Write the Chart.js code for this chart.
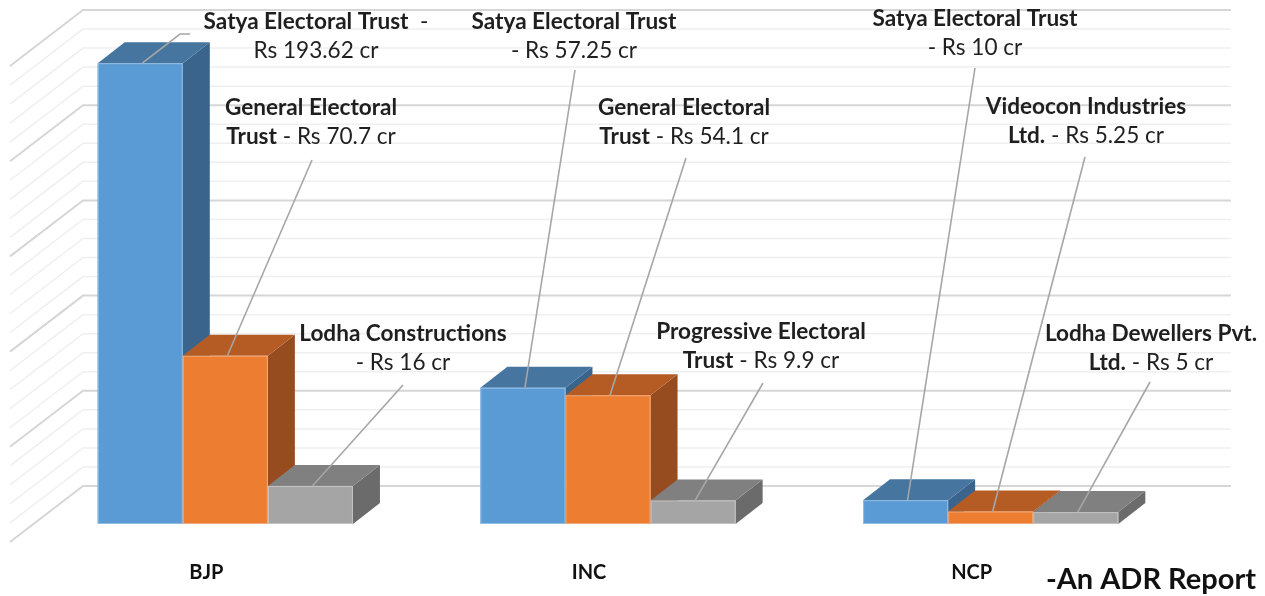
<!DOCTYPE html>
<html>
<head>
<meta charset="utf-8">
<script src="https://cdn.jsdelivr.net/npm/chart.js@4.4.0/dist/chart.umd.min.js"></script>
<style>
  html, body { margin: 0; padding: 0; background: #fff; }
  #wrap { width: 1265px; height: 596px; position: relative; }
</style>
</head>
<body>
<div id="wrap"><canvas id="chart"></canvas></div>
<script>
// --- data ---
const parties = ['BJP', 'INC', 'NCP'];
const firstDonor = ['Satya Electoral Trust', 'Satya Electoral Trust', 'Satya Electoral Trust'];
const firstAmount = [193.62, 57.25, 10];
const secondDonor = ['General Electoral Trust', 'General Electoral Trust', 'Videocon Industries Ltd.'];
const secondAmount = [70.7, 54.1, 5.25];
const thirdDonor = ['Lodha Constructions', 'Progressive Electoral Trust', 'Lodha Dewellers Pvt. Ltd.'];
const thirdAmount = [16, 9.9, 5];
const axisMax = 200;
const axisStep = 4;     // minor gridline step
const majorStep = 20;   // major gridline step

const FONT = 'Lato, "Open Sans", sans-serif';

// 3d look (pixels)
const DEPTH = { dx: 27, dy: -21 };   // bar depth
const WALL = { dx: 49, dy: -38 };    // bar front plane -> back wall
const FRONT = { dx: -24, dy: 18 };   // bar front plane -> front edge of floor

const faces = [
  { front: '#5b9bd5', top: '#4675a0', side: '#3a648c' },
  { front: '#ed7d31', top: '#b45c24', side: '#964c1e' },
  { front: '#a5a5a5', top: '#808080', side: '#6b6b6b' }
];

// where each callout sits: [dataset][category]
const notes = [
  [ { x: 316, y: 22, wrap: 3, dashUp: true, end: [180, 34], hook: 190 },
    { x: 574, y: 22, wrap: 3, end: [575, 70] },
    { x: 975, y: 19, wrap: 3, end: [975, 68] } ],
  [ { x: 311, y: 108, wrap: 2, end: [312, 160] },
    { x: 684, y: 108, wrap: 2, end: [686, 158] },
    { x: 1086, y: 107, wrap: 2, end: [1085, 157] } ],
  [ { x: 403, y: 334, wrap: 2, end: [403, 385] },
    { x: 761, y: 332, wrap: 2, end: [763, 383] },
    { x: 1151, y: 334, wrap: 3, end: [1150, 382] } ]
];

const donors = [firstDonor, secondDonor, thirdDonor];

function calloutLines(name, amount, note) {
  const words = name.split(' ');
  const l1 = words.slice(0, note.wrap).join(' ');
  const rest = words.slice(note.wrap).join(' ');
  const money = 'Rs ' + amount + ' cr';
  if (note.dashUp) return [[[l1, true], ['  -', false]], [[money, false]]];
  if (rest) return [[[l1, true]], [[rest, true], [' - ' + money, false]]];
  return [[[l1, true]], [['- ' + money, false]]];
}

let labelSize = 19;

function richLine(ctx, parts, cx, cy) {
  let total = 0;
  parts.forEach(p => {
    ctx.font = (p[1] ? 'bold ' : '') + labelSize + 'px ' + FONT;
    total += ctx.measureText(p[0]).width;
  });
  let x = cx - total / 2;
  parts.forEach(p => {
    ctx.font = (p[1] ? 'bold ' : '') + labelSize + 'px ' + FONT;
    ctx.fillText(p[0], x, cy);
    x += ctx.measureText(p[0]).width;
  });
}

function poly(ctx, pts, color) {
  ctx.beginPath();
  ctx.moveTo(pts[0][0], pts[0][1]);
  for (let i = 1; i < pts.length; i++) ctx.lineTo(pts[i][0], pts[i][1]);
  ctx.closePath();
  ctx.fillStyle = color;
  ctx.fill();
}

const box3d = {
  id: 'box3d',
  beforeDatasetsDraw(chart) {
    const ctx = chart.ctx;
    const a = chart.chartArea;
    const ys = chart.scales.y;
    ctx.save();
    // minor lines first, then major ones on top
    [false, true].forEach(wantMajor => {
      ys.ticks.forEach(t => {
        const major = t.value % majorStep === 0;
        if (major !== wantMajor) return;
        const py = ys.getPixelForValue(t.value);
        ctx.strokeStyle = major ? '#d6d6d6' : '#efefef';
        ctx.lineWidth = major ? 2 : 1.5;
        ctx.beginPath();
        ctx.moveTo(a.left + FRONT.dx, py + FRONT.dy);
        ctx.lineTo(a.left + WALL.dx, py + WALL.dy);
        ctx.lineTo(a.right + WALL.dx, py + WALL.dy);
        ctx.stroke();
      });
    });
    ctx.restore();
  },
  afterDatasetsDraw(chart) {
    const ctx = chart.ctx;
    const bars = [];
    chart.data.datasets.forEach((ds, di) => {
      chart.getDatasetMeta(di).data.forEach((el, i) => {
        const p = el.getProps(['x', 'y', 'base', 'width'], true);
        bars.push({ di, i, x: p.x, y: p.y, base: p.base, w: p.width });
      });
    });
    bars.sort((m, n) => m.x - n.x);

    ctx.save();
    bars.forEach(b => {
      const f = faces[b.di];
      const l = b.x - b.w / 2, r = b.x + b.w / 2;
      poly(ctx, [[r, b.y], [r + DEPTH.dx, b.y + DEPTH.dy], [r + DEPTH.dx, b.base + DEPTH.dy], [r, b.base]], f.side);
      poly(ctx, [[l, b.y], [l + DEPTH.dx, b.y + DEPTH.dy], [r + DEPTH.dx, b.y + DEPTH.dy], [r, b.y]], f.top);
      ctx.fillStyle = f.front;
      ctx.fillRect(l, b.y, b.w, b.base - b.y);
      ctx.strokeStyle = 'rgba(255,255,255,0.35)';
      ctx.lineWidth = 1;
      ctx.strokeRect(l + 0.5, b.y + 0.5, b.w - 1, b.base - b.y - 1);
    });

    // calibrate label font so the callouts keep the original widths
    ctx.font = 'bold 20px ' + FONT;
    labelSize = 20 * 205 / ctx.measureText('Satya Electoral Trust').width;

    // leader lines
    ctx.strokeStyle = '#a6a6a6';
    ctx.lineWidth = 1.6;
    bars.forEach(b => {
      const n = notes[b.di][b.i];
      ctx.beginPath();
      ctx.moveTo(b.x + 2, b.y);
      ctx.lineTo(n.end[0], n.end[1]);
      if (n.hook) ctx.lineTo(n.hook, n.end[1]);
      ctx.stroke();
    });

    // callout texts
    ctx.fillStyle = '#1f1f1f';
    ctx.textBaseline = 'middle';
    ctx.textAlign = 'left';
    bars.forEach(b => {
      const n = notes[b.di][b.i];
      const amount = chart.data.datasets[b.di].data[b.i];
      const lines = calloutLines(donors[b.di][b.i], amount, n);
      richLine(ctx, lines[0], n.x, n.y);
      richLine(ctx, lines[1], n.x, n.y + 29);
    });
    ctx.restore();
  },
  afterDraw(chart) {
    const ctx = chart.ctx;
    ctx.save();
    ctx.font = 'bold 29px ' + FONT;
    ctx.fillStyle = '#111';
    ctx.textAlign = 'right';
    ctx.textBaseline = 'middle';
    ctx.fillText('-An ADR Report', 1256, 580);
    ctx.restore();
  }
};

new Chart(document.getElementById('chart'), {
  type: 'bar',
  data: {
    labels: parties,
    datasets: [
      { label: 'Top donor', data: firstAmount, backgroundColor: faces[0].front },
      { label: 'Second donor', data: secondAmount, backgroundColor: faces[1].front },
      { label: 'Third donor', data: thirdAmount, backgroundColor: faces[2].front }
    ]
  },
  options: {
    responsive: true,
    maintainAspectRatio: false,
    animation: false,
    layout: { padding: { left: 34, right: 83, top: 48, bottom: 0 } },
    datasets: { bar: { categoryPercentage: 0.667, barPercentage: 1.0 } },
    scales: {
      x: {
        grid: { display: false, drawTicks: false },
        border: { display: false },
        ticks: { font: { family: FONT, size: 20, weight: 'bold' }, color: '#111', padding: 37, labelOffset: -19 },
        afterFit(axis) { axis.height = 72; }
      },
      y: {
        display: false,
        min: 0,
        max: axisMax,
        ticks: { stepSize: axisStep }
      }
    },
    plugins: {
      legend: { display: false },
      tooltip: { enabled: false }
    }
  },
  plugins: [box3d]
});
</script>
</body>
</html>
